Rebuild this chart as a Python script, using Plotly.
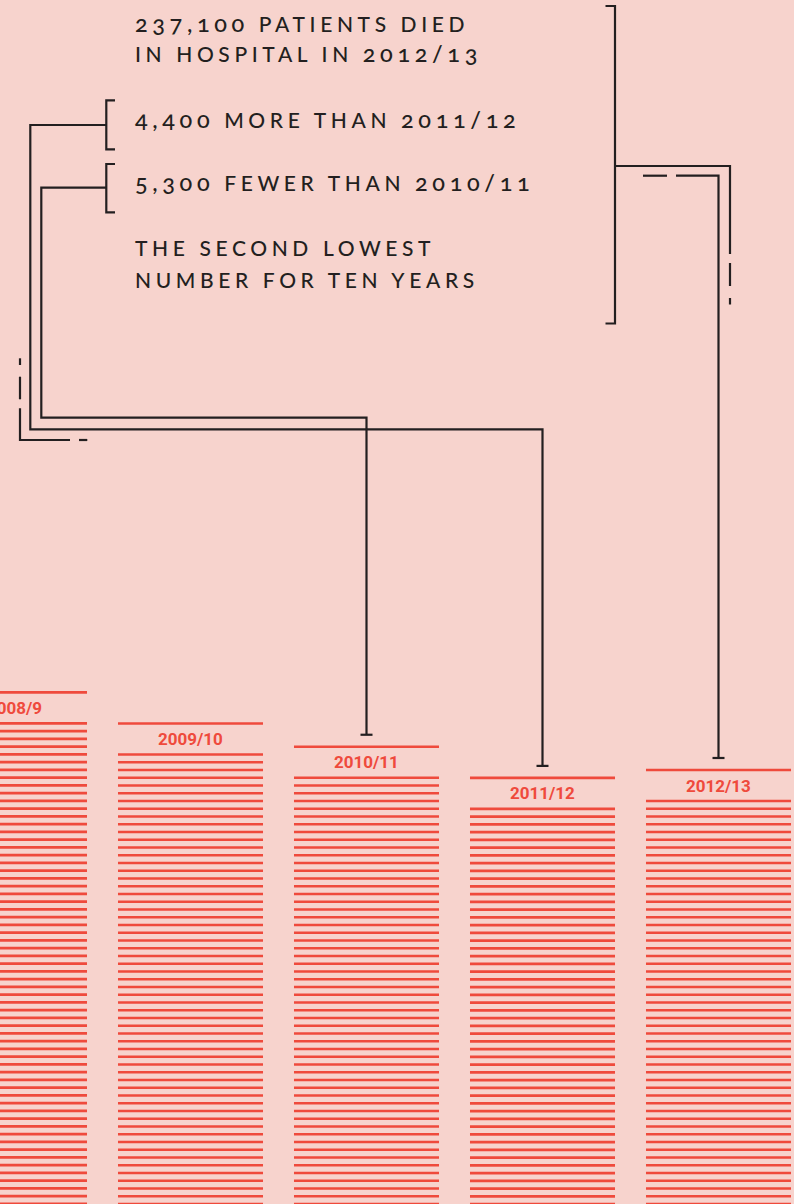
import re
import plotly.graph_objects as go

# ---------------- data ----------------
years = ["2008/9", "2009/10", "2010/11", "2011/12", "2012/13"]
deaths_k = [254.8, 247.7, 242.4, 235.3, 237.1]   # bar heights as drawn (thousands)
stripe_k = 1.767                                  # thousands per stripe

text_lines = [
    "237,100 PATIENTS DIED",
    "IN HOSPITAL IN 2012/13",
    "4,400 MORE THAN 2011/12",
    "5,300 FEWER THAN 2010/11",
    "THE SECOND LOWEST",
    "NUMBER FOR TEN YEARS",
]

# ---------------- style / layout ----------------
W, H = 794, 1204
BG = "#F7D3CD"
RED = "#EF4A3C"
INK = "#231F20"
LW = 2.2

x_range = [-0.0824, 4.429]
y_range = [138.15, 412.66]


def X(px):
    return x_range[0] + px / W * (x_range[1] - x_range[0])


def Y(py):
    return y_range[1] - py / H * (y_range[1] - y_range[0])


half_w = 0.412
fig = go.Figure()

# striped bars
sx, sy = [], []
for i, v in enumerate(deaths_k):
    k = 0
    while v - k * stripe_k > y_range[0] - 5:
        if k == 0 or k >= 4:
            yy = v - k * stripe_k
            sx += [i - half_w, i + half_w, None]
            sy += [yy, yy, None]
        k += 1
fig.add_trace(go.Scatter(x=sx, y=sy, mode="lines",
                         line=dict(color=RED, width=2.6),
                         hoverinfo="skip", showlegend=False))

annotations = []
for i, (yr, v) in enumerate(zip(years, deaths_k)):
    annotations.append(dict(x=i, y=v - 2 * stripe_k, xref="x", yref="y",
                            text=f"<b>{yr}</b>", showarrow=False,
                            font=dict(family="Roboto", size=17, color=RED),
                            xanchor="center", yanchor="middle"))

text_y = [23, 53, 118.5, 182.5, 247.5, 279.5]
for t, ty in zip(text_lines, text_y):
    styled = re.sub(r"([0-9][0-9,/]*)", r'<span style="font-size:23.5px">\1</span>', t)
    annotations.append(dict(x=135 / W, y=1 - ty / H, xref="paper", yref="paper",
                            text=styled, showarrow=False, align="left",
                            font=dict(family="Lato", size=21, color=INK, weight=500),
                            xanchor="left", yanchor="middle", xshift=-2))

shapes = []


def seg(x0, y0, x1, y1):
    shapes.append(dict(type="line", xref="x", yref="y",
                       x0=X(x0), y0=Y(y0), x1=X(x1), y1=Y(y1),
                       line=dict(color=INK, width=LW)))


def path(points):
    d = "M " + " L ".join(f"{px},{py}" for px, py in points)
    shapes.append(dict(type="path", xref="x", yref="y", path=d,
                       line=dict(color=INK, width=LW)))


tee = 1.55 * stripe_k
tee_half = 6 / W * (x_range[1] - x_range[0])


def tee_end(i):
    shapes.append(dict(type="line", xref="x", yref="y", x0=i - tee_half, x1=i + tee_half,
                       y0=deaths_k[i] + tee, y1=deaths_k[i] + tee,
                       line=dict(color=INK, width=LW)))


# right bracket around the text block
path([(X(605.5), Y(6)), (X(615), Y(6)), (X(615), Y(323.5)), (X(605.5), Y(323.5))])
path([(X(615), Y(166)), (X(730), Y(166)), (X(730), Y(254))])
seg(730, 263, 730, 286)
seg(730, 298, 730, 304.5)
seg(643, 175.7, 667, 175.7)
path([(X(676), Y(175.7)), (4, Y(175.7)), (4, deaths_k[4] + tee)])
tee_end(4)

# left brackets
path([(X(115), Y(100.3)), (X(106.3), Y(100.3)), (X(106.3), Y(149.3)), (X(115), Y(149.3))])
path([(X(115), Y(164)), (X(106.3), Y(164)), (X(106.3), Y(212.3)), (X(115), Y(212.3))])

# 4,400 more than 2011/12 -> 2011/12 bar
path([(X(106.3), Y(125)), (X(30.3), Y(125)), (X(30.3), Y(429.3)), (3, Y(429.3)),
      (3, deaths_k[3] + tee)])
tee_end(3)

# 5,300 fewer than 2010/11 -> 2010/11 bar
path([(X(106.3), Y(187.7)), (X(41.3), Y(187.7)), (X(41.3), Y(417.7)), (2, Y(417.7)),
      (2, deaths_k[2] + tee)])
tee_end(2)

# outer fading line on the left
seg(20, 358.3, 20, 365)
seg(20, 376.7, 20, 399.3)
path([(X(20), Y(408.3)), (X(20), Y(440)), (X(70), Y(440))])
seg(79, 440, 87.3, 440)

fig.update_layout(
    width=W, height=H,
    margin=dict(l=0, r=0, t=0, b=0),
    paper_bgcolor=BG, plot_bgcolor=BG,
    xaxis=dict(range=x_range, visible=False, fixedrange=True),
    yaxis=dict(range=y_range, visible=False, fixedrange=True),
    annotations=annotations, shapes=shapes,
    showlegend=False,
)

post = """
document.body.style.margin = '0';
document.body.style.background = '%s';
var gd = document.getElementById('{plot_id}');
gd.querySelectorAll('text.annotation-text').forEach(function(t){
  if ((t.style.fontFamily || '').indexOf('Lato') >= 0) {
    t.style.letterSpacing = '0.22em';
    t.style.fontVariantNumeric = 'oldstyle-nums';
  }
});
""" % BG

fig.write_html("out.html", config={"displayModeBar": False}, post_script=post)
